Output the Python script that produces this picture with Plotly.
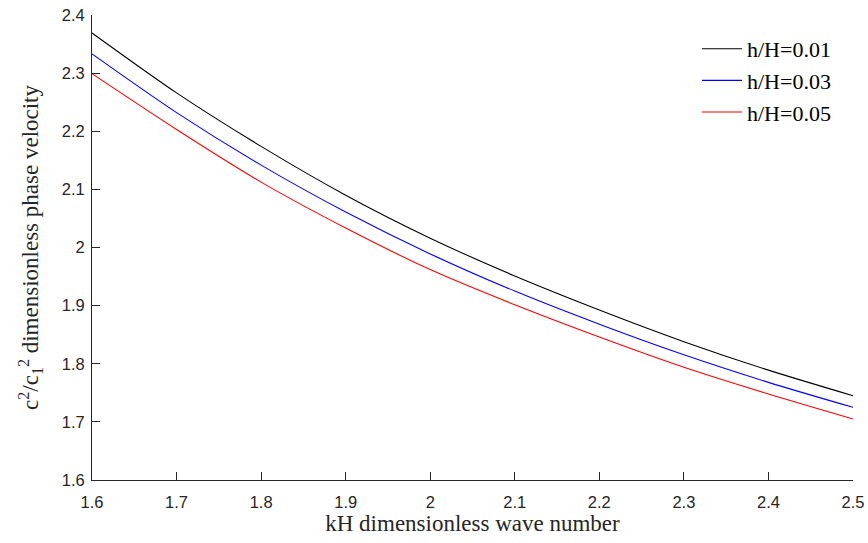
import plotly.graph_objects as go

kH = [1.6, 1.7, 1.8, 1.9, 2.0, 2.1, 2.2, 2.3, 2.4, 2.5]
v_h001 = [2.369, 2.266, 2.174, 2.090, 2.016, 1.951, 1.8925, 1.838, 1.789, 1.745]
v_h003 = [2.333, 2.232, 2.1417, 2.061, 1.989, 1.925, 1.868, 1.8154, 1.768, 1.725]
v_h005 = [2.299, 2.203, 2.1125, 2.0335, 1.962, 1.9015, 1.846, 1.794, 1.748, 1.705]
names = ["h/H=0.01", "h/H=0.03", "h/H=0.05"]
colors = ["#000000", "#0000ff", "#ff0000"]
x_ticks = [1.6, 1.7, 1.8, 1.9, 2.0, 2.1, 2.2, 2.3, 2.4, 2.5]
x_tick_text = ["1.6", "1.7", "1.8", "1.9", "2", "2.1", "2.2", "2.3", "2.4", "2.5"]
y_ticks = [1.6, 1.7, 1.8, 1.9, 2.0, 2.1, 2.2, 2.3, 2.4]
y_tick_text = ["1.6", "1.7", "1.8", "1.9", "2", "2.1", "2.2", "2.3", "2.4"]

fig = go.Figure()
for ys, nm, c in zip([v_h001, v_h003, v_h005], names, colors):
    fig.add_trace(go.Scatter(x=kH, y=ys, mode="lines", name=nm,
                             line=dict(color=c, width=1.1, shape="spline", smoothing=0.8)))

axis_color = "#262626"
fig.update_layout(
    template="none",
    width=868, height=543,
    margin=dict(l=92, r=15, t=15, b=63, pad=0),
    paper_bgcolor="white", plot_bgcolor="white",
    showlegend=True,
    legend=dict(x=0.795, y=0.972, xanchor="left", yanchor="top",
                font=dict(family="Liberation Serif", size=22, color="#000000"),
                bgcolor="rgba(0,0,0,0)", borderwidth=0, itemwidth=40, tracegroupgap=0),
    xaxis=dict(range=[1.6, 2.5], tickvals=x_ticks, ticktext=x_tick_text, automargin=False,
               showgrid=False, zeroline=False, showline=True, linecolor=axis_color,
               linewidth=1, ticks="inside", ticklen=8, tickwidth=1, tickcolor=axis_color,
               ticklabelstandoff=7,
               tickfont=dict(family="Liberation Sans", size=16.5, color=axis_color),
               title=dict(text="kH dimensionless wave number", standoff=4,
                          font=dict(family="Liberation Serif", size=23, color=axis_color))),
    yaxis=dict(range=[1.6, 2.4], tickvals=y_ticks, ticktext=y_tick_text, automargin=False,
               showgrid=False, zeroline=False, showline=True, linecolor=axis_color,
               linewidth=1, ticks="inside", ticklen=8, tickwidth=1, tickcolor=axis_color,
               ticklabelstandoff=3,
               tickfont=dict(family="Liberation Sans", size=16.5, color=axis_color),
               title=dict(text="c<sup>2</sup>/c<sub>1</sub><sup>2</sup> dimensionless phase velocity",
                          standoff=16,
                          font=dict(family="Liberation Serif", size=23, color=axis_color))),
)
fig.write_html("out.html")
